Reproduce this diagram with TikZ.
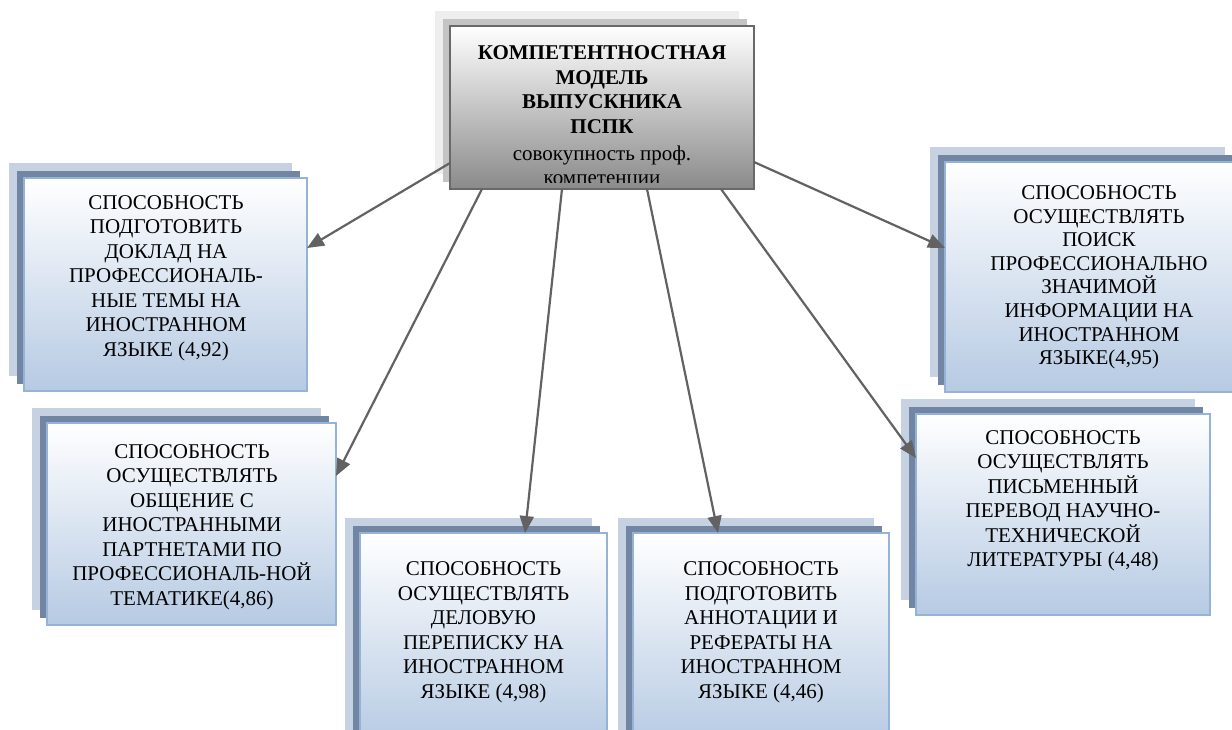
\documentclass[tikz,border=0pt]{standalone}
\usepackage{fontspec}
\setmainfont{Liberation Serif}
\usetikzlibrary{arrows.meta}
\pgfdeclarelayer{background}
\pgfsetlayers{background,main}
\definecolor{backlight}{RGB}{198,210,226}
\definecolor{backdark}{RGB}{114,133,162}
\definecolor{frontedge}{RGB}{149,179,215}
\definecolor{bluebot}{RGB}{182,202,227}
\definecolor{grayback}{RGB}{238,238,238}
\definecolor{graymid}{RGB}{196,196,196}
\definecolor{graybot}{RGB}{138,138,138}
\definecolor{grayedge}{RGB}{105,105,105}
\definecolor{arrowc}{RGB}{98,98,98}
\tikzset{
  frontbox/.style={draw=frontedge, line width=2pt, top color=white, bottom color=bluebot, inner sep=0pt, outer sep=0pt},
  centerbox/.style={draw=grayedge, line width=2.8pt, top color=white, bottom color=graybot, inner sep=0pt, outer sep=0pt},
  boxtext/.style={align=center, inner sep=0pt, font=\fontsize{21pt}{24.5pt}\selectfont, execute at begin node=\strut, execute at end node=\strut},
  conn/.style={draw=arrowc, line width=2.2pt, -{Triangle[length=17pt,width=14pt]}},
}
\newcommand\boxlayers[3]{%
  \begin{pgfonlayer}{background}
    \fill[#2] ([shift={(-15.5pt,15.5pt)}]#1.south west) rectangle ([shift={(-15.5pt,15.5pt)}]#1.north east);
    \fill[#3] ([shift={(-7.5pt,7.5pt)}]#1.south west) rectangle ([shift={(-7.5pt,7.5pt)}]#1.north east);
  \end{pgfonlayer}}
\begin{document}
\begin{tikzpicture}[x=1pt,y=-1pt]
\useasboundingbox (0,0) rectangle (1232,729);
\clip (0,0) rectangle (1232,729);

% central box
\node[centerbox, minimum width=304pt, minimum height=163pt] (c) at (602,107.5) {};
\boxlayers{c}{grayback}{graymid}
\begin{scope}
  \clip (452,28) rectangle (752,182);
  \node[boxtext, anchor=north] (ct) at (602,45.5) {\textbf{КОМПЕТЕНТНОСТНАЯ}\\\textbf{МОДЕЛЬ}\\\textbf{ВЫПУСКНИКА}\\\textbf{ПСПК}\\[2.5pt]совокупность проф.\\компетенции};
\end{scope}

% competence boxes
\node[frontbox, minimum width=283pt, minimum height=213pt] (b1) at (165.5,284.5) {};
\boxlayers{b1}{backlight}{backdark}
\node[boxtext] (t1) at (166,279.6) {СПОСОБНОСТЬ\\ПОДГОТОВИТЬ\\ДОКЛАД НА\\ПРОФЕССИОНАЛЬ-\\НЫЕ ТЕМЫ НА\\ИНОСТРАННОМ\\ЯЗЫКЕ (4,92)};

\node[frontbox, minimum width=295pt, minimum height=230pt] (b2) at (1092.5,277) {};
\boxlayers{b2}{backlight}{backdark}
\node[boxtext, font=\fontsize{21pt}{23.6pt}\selectfont] (t2) at (1099,278.6) {СПОСОБНОСТЬ\\ОСУЩЕСТВЛЯТЬ\\ПОИСК\\ПРОФЕССИОНАЛЬНО\\ЗНАЧИМОЙ\\ИНФОРМАЦИИ НА\\ИНОСТРАННОМ\\ЯЗЫКЕ(4,95)};

\node[frontbox, minimum width=289pt, minimum height=202pt] (b3) at (191.5,524) {};
\boxlayers{b3}{backlight}{backdark}
\node[boxtext] (t3) at (192,528.6) {СПОСОБНОСТЬ\\ОСУЩЕСТВЛЯТЬ\\ОБЩЕНИЕ С\\ИНОСТРАННЫМИ\\ПАРТНЕТАМИ ПО\\ПРОФЕССИОНАЛЬ-НОЙ\\ТЕМАТИКЕ(4,86)};

\node[frontbox, minimum width=247pt, minimum height=212pt] (b4) at (483.5,639) {};
\boxlayers{b4}{backlight}{backdark}
\node[boxtext] (t4) at (483.5,633.6) {СПОСОБНОСТЬ\\ОСУЩЕСТВЛЯТЬ\\ДЕЛОВУЮ\\ПЕРЕПИСКУ НА\\ИНОСТРАННОМ\\ЯЗЫКЕ (4,98)};

\node[frontbox, minimum width=256pt, minimum height=212pt] (b5) at (761,639) {};
\boxlayers{b5}{backlight}{backdark}
\node[boxtext] (t5) at (761,633.6) {СПОСОБНОСТЬ\\ПОДГОТОВИТЬ\\АННОТАЦИИ И\\РЕФЕРАТЫ НА\\ИНОСТРАННОМ\\ЯЗЫКЕ (4,46)};

\node[frontbox, minimum width=294pt, minimum height=201pt] (b6) at (1063,514.5) {};
\boxlayers{b6}{backlight}{backdark}
\node[boxtext] (t6) at (1063,502.1) {СПОСОБНОСТЬ\\ОСУЩЕСТВЛЯТЬ\\ПИСЬМЕННЫЙ\\ПЕРЕВОД НАУЧНО-\\ТЕХНИЧЕСКОЙ\\ЛИТЕРАТУРЫ (4,48)};

% connectors
\draw[conn] ([yshift=-55.5pt]c.west) -- ([yshift=36.5pt]b1.east);
\draw[conn] ([xshift=-120pt]c.south) -- ([yshift=48pt]b3.east);
\draw[conn] ([xshift=-40pt]c.south) -- ([xshift=41.5pt]b4.north);
\draw[conn] ([xshift=45pt]c.south) -- ([xshift=-43pt]b5.north);
\draw[conn] ([xshift=119pt]c.south) -- ([yshift=56.5pt]b6.west);
\draw[conn] ([yshift=-54.5pt]c.east) -- ([yshift=29pt]b2.west);
\end{tikzpicture}
\end{document}
